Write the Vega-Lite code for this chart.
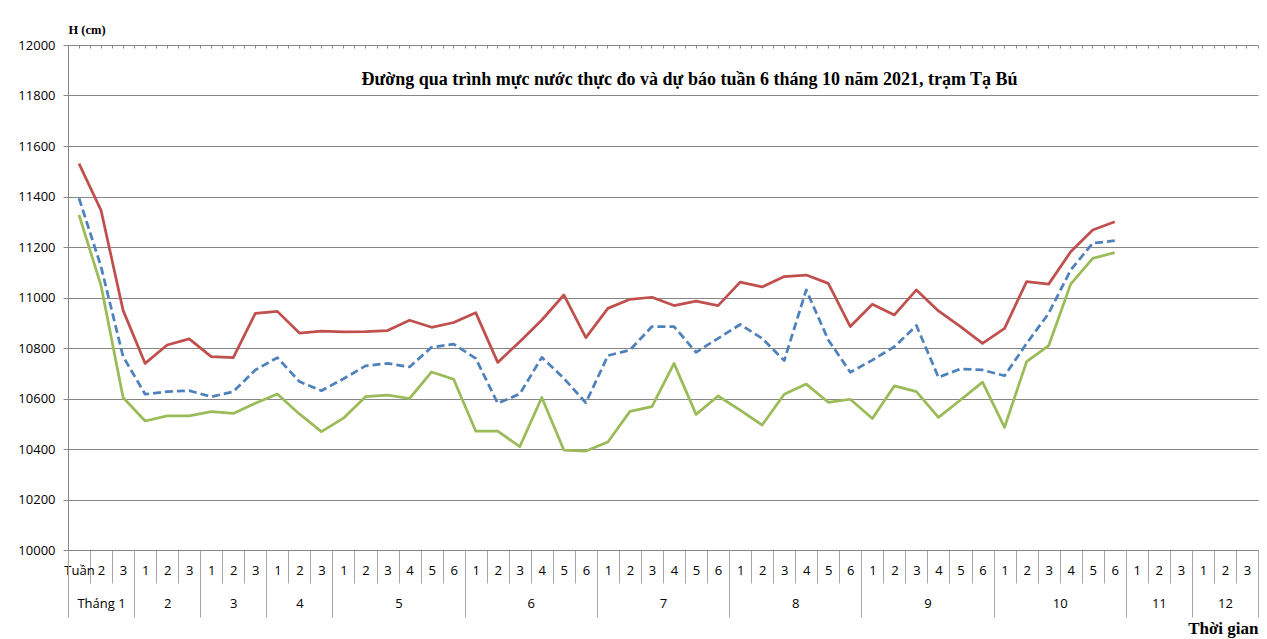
{
  "$schema": "https://vega.github.io/schema/vega-lite/v6.json",
  "width": 1190,
  "height": 505,
  "autosize": {"type": "none"},
  "padding": {"left": 68, "top": 45, "right": 9, "bottom": 89},
  "background": "white",
  "config": {"view": {"stroke": null}, "font": "Open Sans"},
  "data": {
    "values": [
      {"cat": "1.1", "max": 11530, "mean": 11393, "min": 11327},
      {"cat": "1.2", "max": 11345, "mean": 11122, "min": 11047},
      {"cat": "1.3", "max": 10949, "mean": 10766, "min": 10604},
      {"cat": "2.1", "max": 10739, "mean": 10617, "min": 10511},
      {"cat": "2.2", "max": 10812, "mean": 10627, "min": 10531},
      {"cat": "2.3", "max": 10836, "mean": 10631, "min": 10531},
      {"cat": "3.1", "max": 10766, "mean": 10607, "min": 10548},
      {"cat": "3.2", "max": 10762, "mean": 10627, "min": 10541},
      {"cat": "3.3", "max": 10937, "mean": 10713, "min": 10581},
      {"cat": "4.1", "max": 10945, "mean": 10762, "min": 10618},
      {"cat": "4.2", "max": 10859, "mean": 10667, "min": 10539},
      {"cat": "4.3", "max": 10867, "mean": 10631, "min": 10469},
      {"cat": "5.1", "max": 10864, "mean": 10678, "min": 10522},
      {"cat": "5.2", "max": 10865, "mean": 10729, "min": 10607},
      {"cat": "5.3", "max": 10869, "mean": 10739, "min": 10613},
      {"cat": "5.4", "max": 10910, "mean": 10725, "min": 10600},
      {"cat": "5.5", "max": 10882, "mean": 10803, "min": 10705},
      {"cat": "5.6", "max": 10901, "mean": 10815, "min": 10676},
      {"cat": "6.1", "max": 10940, "mean": 10759, "min": 10471},
      {"cat": "6.2", "max": 10743, "mean": 10581, "min": 10471},
      {"cat": "6.3", "max": 10825, "mean": 10618, "min": 10409},
      {"cat": "6.4", "max": 10911, "mean": 10763, "min": 10604},
      {"cat": "6.5", "max": 11010, "mean": 10680, "min": 10396},
      {"cat": "6.6", "max": 10841, "mean": 10583, "min": 10392},
      {"cat": "7.1", "max": 10957, "mean": 10770, "min": 10428},
      {"cat": "7.2", "max": 10993, "mean": 10792, "min": 10549},
      {"cat": "7.3", "max": 11001, "mean": 10885, "min": 10568},
      {"cat": "7.4", "max": 10968, "mean": 10885, "min": 10739},
      {"cat": "7.5", "max": 10986, "mean": 10783, "min": 10537},
      {"cat": "7.6", "max": 10968, "mean": 10838, "min": 10610},
      {"cat": "8.1", "max": 11061, "mean": 10893, "min": 10554},
      {"cat": "8.2", "max": 11042, "mean": 10838, "min": 10495},
      {"cat": "8.3", "max": 11083, "mean": 10750, "min": 10617},
      {"cat": "8.4", "max": 11089, "mean": 11030, "min": 10657},
      {"cat": "8.5", "max": 11056, "mean": 10832, "min": 10585},
      {"cat": "8.6", "max": 10885, "mean": 10704, "min": 10597},
      {"cat": "9.1", "max": 10973, "mean": 10752, "min": 10521},
      {"cat": "9.2", "max": 10931, "mean": 10805, "min": 10650},
      {"cat": "9.3", "max": 11030, "mean": 10889, "min": 10627},
      {"cat": "9.4", "max": 10947, "mean": 10684, "min": 10525},
      {"cat": "9.5", "max": 10885, "mean": 10717, "min": 10594},
      {"cat": "9.6", "max": 10818, "mean": 10713, "min": 10665},
      {"cat": "10.1", "max": 10878, "mean": 10690, "min": 10486},
      {"cat": "10.2", "max": 11063, "mean": 10818, "min": 10746},
      {"cat": "10.3", "max": 11053, "mean": 10937, "min": 10809},
      {"cat": "10.4", "max": 11181, "mean": 11109, "min": 11053},
      {"cat": "10.5", "max": 11267, "mean": 11215, "min": 11155},
      {"cat": "10.6", "max": 11300, "mean": 11225, "min": 11178}
    ]
  },
  "resolve": {"axis": {"x": "independent"}},
  "layer": [
    {
      "mark": {"type": "line", "color": "#C0504D", "strokeWidth": 2.75, "strokeJoin": "round"},
      "encoding": {
        "x": {
          "field": "cat", "type": "ordinal", "bandPosition": 0.5, "sort": null,
          "scale": {"type": "band", "paddingInner": 0, "paddingOuter": 0,
            "domain": ["1.1","1.2","1.3","2.1","2.2","2.3","3.1","3.2","3.3","4.1","4.2","4.3","5.1","5.2","5.3","5.4","5.5","5.6","6.1","6.2","6.3","6.4","6.5","6.6","7.1","7.2","7.3","7.4","7.5","7.6","8.1","8.2","8.3","8.4","8.5","8.6","9.1","9.2","9.3","9.4","9.5","9.6","10.1","10.2","10.3","10.4","10.5","10.6","11.1","11.2","11.3","12.1","12.2","12.3"]},
          "axis": {
            "orient": "bottom", "tickBand": "extent", "grid": false,
            "domain": true, "domainColor": "#868686", "domainWidth": 1,
            "ticks": true, "tickSize": 33, "tickColor": "#a6a6a6", "tickWidth": 1,
            "labelExpr": "isValid(datum.value) ? (datum.value == '1.1' ? 'Tuần' : split(datum.value, '.')[1]) : ''",
            "labelAngle": 0, "labelBaseline": "middle", "labelPadding": -13,
            "labelFont": "Open Sans", "labelFontSize": 13, "labelColor": "#000000",
            "labelOverlap": false, "labelBound": false, "labelFlush": false,
            "title": "Thời gian", "titleFont": "Liberation Serif", "titleFontSize": 17,
            "titleFontWeight": "bold", "titleColor": "#000000", "titleAngle": 0,
            "titleX": 1190, "titleY": 83, "titleAlign": "right", "titleBaseline": "alphabetic"
          }
        },
        "y": {
          "field": "max", "type": "quantitative",
          "scale": {"domain": [10000, 12000], "nice": false, "zero": false},
          "axis": {
            "values": [10000, 10200, 10400, 10600, 10800, 11000, 11200, 11400, 11600, 11800, 12000],
            "format": "d", "grid": true, "gridColor": "#868686", "gridWidth": 1,
            "domainColor": "#868686", "tickColor": "#868686", "tickSize": 5,
            "labelFont": "Open Sans", "labelFontSize": 13, "labelPadding": 8, "labelColor": "#000000",
            "title": "H (cm)", "titleAngle": 0, "titleX": 0, "titleY": -12, "titleAlign": "left",
            "titleBaseline": "alphabetic", "titleFont": "Liberation Serif", "titleFontSize": 12.5,
            "titleFontWeight": "bold", "titleColor": "#000000"
          }
        }
      }
    },
    {
      "mark": {"type": "line", "color": "#4F81BD", "strokeWidth": 2.75, "strokeDash": [8, 4], "strokeJoin": "round"},
      "encoding": {
        "x": {
          "field": "cat", "type": "ordinal", "bandPosition": 0.5, "sort": null,
          "scale": {"type": "band", "paddingInner": 0, "paddingOuter": 0,
            "domain": ["1.1","1.2","1.3","2.1","2.2","2.3","3.1","3.2","3.3","4.1","4.2","4.3","5.1","5.2","5.3","5.4","5.5","5.6","6.1","6.2","6.3","6.4","6.5","6.6","7.1","7.2","7.3","7.4","7.5","7.6","8.1","8.2","8.3","8.4","8.5","8.6","9.1","9.2","9.3","9.4","9.5","9.6","10.1","10.2","10.3","10.4","10.5","10.6","11.1","11.2","11.3","12.1","12.2","12.3"]},
          "axis": {
            "orient": "bottom", "tickBand": "extent", "grid": false, "domain": false,
            "values": ["1.1","1.3","2.3","3.3","4.3","5.6","6.6","7.6","8.6","9.6","10.6","11.3","12.3"],
            "ticks": true, "tickSize": 67, "tickColor": "#a6a6a6", "tickWidth": 1,
            "tickOpacity": {"condition": {"test": "datum.value == '1.1'", "value": 0}, "value": 1},
            "labelExpr": "isValid(datum.value) && datum.value != '1.1' ? (datum.value == '1.3' ? 'Tháng 1' : split(datum.value, '.')[0]) : ''",
            "labelOffset": {"condition": {"test": "indexof(['5.6','6.6','7.6','8.6','9.6','10.6'], datum.value) >= 0", "value": -55.09}, "value": -22.04},
            "labelAngle": 0, "labelBaseline": "middle", "labelPadding": -14,
            "labelFont": "Open Sans", "labelFontSize": 13, "labelColor": "#000000",
            "labelOverlap": false, "labelBound": false, "labelFlush": false,
            "title": null
          }
        },
        "y": {
          "field": "mean", "type": "quantitative",
          "scale": {"domain": [10000, 12000], "nice": false, "zero": false},
          "axis": {
            "values": [10000, 10200, 10400, 10600, 10800, 11000, 11200, 11400, 11600, 11800, 12000],
            "format": "d", "grid": true, "gridColor": "#868686", "gridWidth": 1,
            "domainColor": "#868686", "tickColor": "#868686", "tickSize": 5,
            "labelFont": "Open Sans", "labelFontSize": 13, "labelPadding": 8, "labelColor": "#000000",
            "title": "H (cm)", "titleAngle": 0, "titleX": 0, "titleY": -12, "titleAlign": "left",
            "titleBaseline": "alphabetic", "titleFont": "Liberation Serif", "titleFontSize": 12.5,
            "titleFontWeight": "bold", "titleColor": "#000000"
          }
        }
      }
    },
    {
      "mark": {"type": "line", "color": "#9BBB59", "strokeWidth": 2.75, "strokeJoin": "round"},
      "encoding": {
        "x": {
          "field": "cat", "type": "ordinal", "bandPosition": 0.5, "sort": null,
          "scale": {"type": "band", "paddingInner": 0, "paddingOuter": 0,
            "domain": ["1.1","1.2","1.3","2.1","2.2","2.3","3.1","3.2","3.3","4.1","4.2","4.3","5.1","5.2","5.3","5.4","5.5","5.6","6.1","6.2","6.3","6.4","6.5","6.6","7.1","7.2","7.3","7.4","7.5","7.6","8.1","8.2","8.3","8.4","8.5","8.6","9.1","9.2","9.3","9.4","9.5","9.6","10.1","10.2","10.3","10.4","10.5","10.6","11.1","11.2","11.3","12.1","12.2","12.3"]},
          "axis": {
            "orient": "top", "grid": false, "domain": false, "labels": false,
            "ticks": true, "tickSize": -3, "tickColor": "#868686", "tickWidth": 1, "bandPosition": 0.5,
            "title": "Đường qua trình mực nước thực đo và dự báo tuần 6 tháng 10 năm 2021, trạm Tạ Bú",
            "titleFont": "Liberation Serif", "titleFontSize": 18, "titleFontWeight": "bold",
            "titleColor": "#000000", "titleAngle": 0, "titleX": 621, "titleY": 39,
            "titleAlign": "center", "titleBaseline": "alphabetic"
          }
        },
        "y": {
          "field": "min", "type": "quantitative",
          "scale": {"domain": [10000, 12000], "nice": false, "zero": false},
          "axis": {
            "values": [10000, 10200, 10400, 10600, 10800, 11000, 11200, 11400, 11600, 11800, 12000],
            "format": "d", "grid": true, "gridColor": "#868686", "gridWidth": 1,
            "domainColor": "#868686", "tickColor": "#868686", "tickSize": 5,
            "labelFont": "Open Sans", "labelFontSize": 13, "labelPadding": 8, "labelColor": "#000000",
            "title": "H (cm)", "titleAngle": 0, "titleX": 0, "titleY": -12, "titleAlign": "left",
            "titleBaseline": "alphabetic", "titleFont": "Liberation Serif", "titleFontSize": 12.5,
            "titleFontWeight": "bold", "titleColor": "#000000"
          }
        }
      }
    },
    {
      "mark": {"type": "point", "opacity": 0},
      "encoding": {
        "x": {
          "field": "cat", "type": "ordinal", "bandPosition": 0.5, "sort": null,
          "scale": {"type": "band", "paddingInner": 0, "paddingOuter": 0,
            "domain": ["1.1","1.2","1.3","2.1","2.2","2.3","3.1","3.2","3.3","4.1","4.2","4.3","5.1","5.2","5.3","5.4","5.5","5.6","6.1","6.2","6.3","6.4","6.5","6.6","7.1","7.2","7.3","7.4","7.5","7.6","8.1","8.2","8.3","8.4","8.5","8.6","9.1","9.2","9.3","9.4","9.5","9.6","10.1","10.2","10.3","10.4","10.5","10.6","11.1","11.2","11.3","12.1","12.2","12.3"]},
          "axis": {
            "orient": "top", "grid": false, "domain": false, "labels": false, "tickBand": "extent",
            "ticks": true, "tickSize": -3, "tickColor": "#868686", "tickWidth": 1,
            "title": null
          }
        },
        "y": {
          "field": "min", "type": "quantitative",
          "scale": {"domain": [10000, 12000], "nice": false, "zero": false},
          "axis": {
            "values": [10000, 10200, 10400, 10600, 10800, 11000, 11200, 11400, 11600, 11800, 12000],
            "format": "d", "grid": true, "gridColor": "#868686", "gridWidth": 1,
            "domainColor": "#868686", "tickColor": "#868686", "tickSize": 5,
            "labelFont": "Open Sans", "labelFontSize": 13, "labelPadding": 8, "labelColor": "#000000",
            "title": "H (cm)", "titleAngle": 0, "titleX": 0, "titleY": -12, "titleAlign": "left",
            "titleBaseline": "alphabetic", "titleFont": "Liberation Serif", "titleFontSize": 12.5,
            "titleFontWeight": "bold", "titleColor": "#000000"
          }
        }
      }
    }
  ]
}
